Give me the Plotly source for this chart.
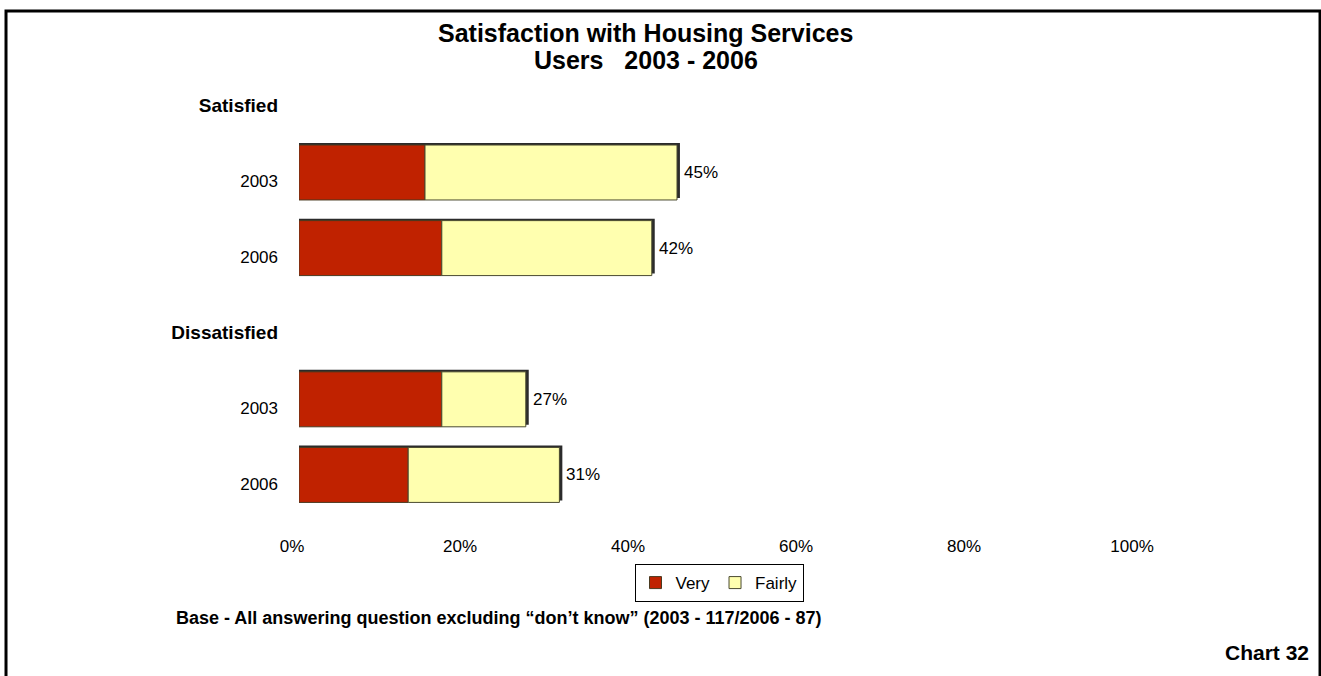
import plotly.graph_objects as go

# Survey results (percent of users answering)
years = ["2003", "2006", "2003", "2006"]
very = [15, 17, 17, 13]
fairly = [30, 25, 10, 18]
row_pos = [0, 1, 3, 4]

header_pos = [-1, 2]
header_text = ["Satisfied", "Dissatisfied"]

x_ticks = [0, 20, 40, 60, 80, 100]
x_tick_text = ["0%", "20%", "40%", "60%", "80%", "100%"]

totals = [v + f for v, f in zip(very, fairly)]

FONT = "Liberation Sans, Arial, sans-serif"
BAR_W = 0.727

fig = go.Figure()

# dark depth edge drawn behind each stacked bar
fig.add_trace(go.Bar(
    y=row_pos, x=[t + 0.35 for t in totals], base=0, orientation="h",
    width=BAR_W, offset=-BAR_W / 2 - 0.026,
    marker=dict(color="#2b2b2b", line=dict(width=0)),
    showlegend=False, hoverinfo="skip",
))
fig.add_trace(go.Bar(
    y=row_pos, x=very, base=0, orientation="h", name="Very",
    width=BAR_W, offset=-BAR_W / 2,
    marker=dict(color="#C02200", line=dict(color="#4a3a20", width=1)),
))
fig.add_trace(go.Bar(
    y=row_pos, x=fairly, base=very, orientation="h", name="Fairly",
    width=BAR_W, offset=-BAR_W / 2,
    marker=dict(color="#FFFFAF", line=dict(color="#4a4a30", width=1)),
))

# total labels at the end of each bar
for p, t in zip(row_pos, totals):
    fig.add_annotation(
        x=t, y=p, xref="x", yref="y", text=f"{t}%", showarrow=False,
        xanchor="left", yanchor="middle", xshift=5,
        font=dict(family=FONT, size=17, color="#000"),
    )

y_tickvals = header_pos[:1] + row_pos[:2] + header_pos[1:] + row_pos[2:]
hdr = '<span style="font-size:19px"><b>{}</b></span>'
y_ticktext = ([hdr.format(header_text[0])] + years[:2]
              + [hdr.format(header_text[1])] + years[2:])

fig.update_layout(
    width=1321, height=676,
    margin=dict(l=299, r=182, t=60, b=148),
    paper_bgcolor="white", plot_bgcolor="white",
    barmode="overlay",
    font=dict(family=FONT, size=17, color="#000"),
    xaxis=dict(
        range=[0, 100], tickvals=x_ticks, ticktext=x_tick_text,
        showgrid=False, zeroline=False, showline=False, ticks="",
        ticklabelshift=-7, ticklabelstandoff=6,
        tickfont=dict(family=FONT, size=17, color="#000"),
    ),
    yaxis=dict(
        range=[4.702, -1.488], tickvals=y_tickvals, ticktext=y_ticktext,
        showgrid=False, zeroline=False, showline=False, ticks="",
        ticklabelshift=-9, ticklabelstandoff=20,
        tickfont=dict(family=FONT, size=17, color="#000"),
    ),
    legend=dict(
        orientation="h", x=0.5, xanchor="center", y=-0.077, yanchor="top",
        bordercolor="#000", borderwidth=1, bgcolor="white",
        font=dict(family=FONT, size=17, color="#000"),
        itemwidth=30, tracegroupgap=0,
    ),
    showlegend=True,
)

# title
fig.add_annotation(
    x=0.413, y=1.058, xref="paper", yref="paper", showarrow=False,
    text="<b>Satisfaction with Housing Services</b>",
    xanchor="center", yanchor="middle",
    font=dict(family=FONT, size=25, color="#000"),
)
fig.add_annotation(
    x=0.413, y=1.0, xref="paper", yref="paper", showarrow=False,
    text="<b>Users   2003 - 2006</b>",
    xanchor="center", yanchor="middle",
    font=dict(family=FONT, size=25, color="#000"),
)

# footer notes
fig.add_annotation(
    x=-0.1488, y=-0.192, xref="paper", yref="paper", showarrow=False,
    text="<b>Base - All answering question excluding \u201cdon\u2019t know\u201d (2003 - 117/2006 - 87)</b>",
    xanchor="left", yanchor="middle",
    font=dict(family=FONT, size=18, color="#000"),
)
fig.add_annotation(
    x=1.2048, y=-0.267, xref="paper", yref="paper", showarrow=False,
    text="<b>Chart 32</b>",
    xanchor="right", yanchor="middle",
    font=dict(family=FONT, size=21, color="#000"),
)

# outer frame
fig.add_shape(
    type="rect", xref="paper", yref="paper",
    x0=-0.3488, x1=1.2155, y0=-0.33, y1=1.1047,
    line=dict(color="#000", width=3), fillcolor="rgba(0,0,0,0)", layer="above",
)

fig.write_html("out.html")
